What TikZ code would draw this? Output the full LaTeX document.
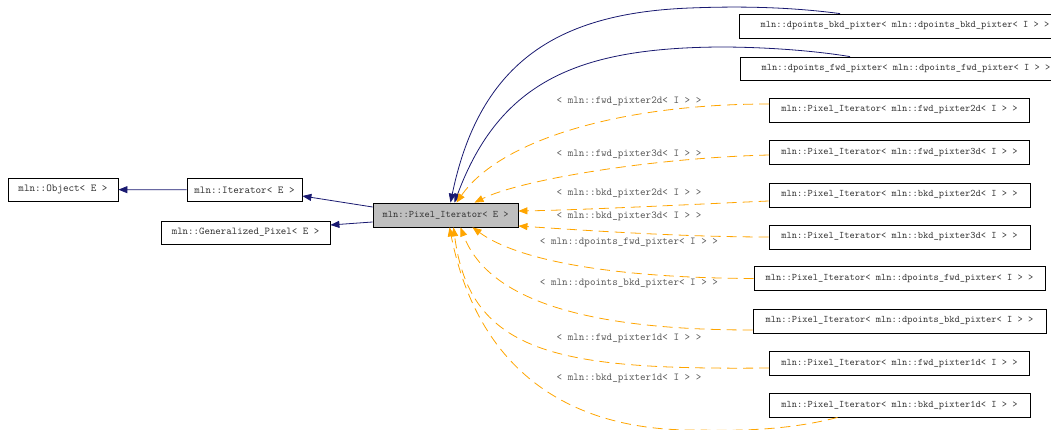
\documentclass[tikz,border=0pt]{standalone}
\usetikzlibrary{arrows.meta}
\definecolor{edgeblue}{HTML}{191970}
\definecolor{edgeorange}{HTML}{FFA500}
\tikzset{
    cls/.style={draw, line width=0.8pt, inner sep=0pt, minimum height=23pt,
        font=\ttfamily\fontsize{10}{12}\selectfont, text=black!80},
    lbl/.style={inner sep=0pt, font=\ttfamily\fontsize{10.6}{12}\selectfont, text=black!65},
    inherit/.style={draw=edgeblue, line width=0.8pt, -{Triangle[length=9pt,width=7pt]}},
    templ/.style={draw=edgeorange, line width=0.8pt, dash pattern=on 10pt off 6pt,
        -{Triangle[length=9pt,width=7pt]}}
}
\begin{document}
\begin{tikzpicture}[x=1pt,y=-1pt]
    \useasboundingbox (0,0) rectangle (1051,430);
    \clip (0,0) rectangle (1051,430);
% classes
    \node[cls, minimum width=110pt, font=\ttfamily\fontsize{10.6}{12}\selectfont] (object) at (63,189.5) {mln::Object< E >};
    \node[cls, minimum width=115pt, font=\ttfamily\fontsize{10.6}{12}\selectfont] (iter) at (244.5,190) {mln::Iterator< E >};
    \node[cls, minimum width=169pt, font=\ttfamily\fontsize{10.4}{12}\selectfont] (genpix) at (245.5,232.5) {mln::Generalized\_Pixel< E >};
    \node[cls, fill=black!25, minimum width=145pt, minimum height=24pt] (pixit) at (445.5,215) {mln::Pixel\_Iterator< E >};
    \node[cls, minimum width=332pt, minimum height=24pt] (dpbkd) at (905,26) {mln::dpoints\_bkd\_pixter< mln::dpoints\_bkd\_pixter< I > >};
    \node[cls, minimum width=332pt] (dpfwd) at (906,68.5) {mln::dpoints\_fwd\_pixter< mln::dpoints\_fwd\_pixter< I > >};
    \foreach \n/\y/\w/\t/\ly in {fwd2d/110/260/fwd\_pixter2d/101, fwd3d/152.5/260/fwd\_pixter3d/154,
        bkd2d/195/261/bkd\_pixter2d/193, bkd3d/237/261/bkd\_pixter3d/216,
        dfwd/278.5/291/dpoints\_fwd\_pixter/242, dbkd/321/293/dpoints\_bkd\_pixter/283,
        fwd1d/363/260/fwd\_pixter1d/338, bkd1d/405/261/bkd\_pixter1d/378}{
        \node[cls, minimum width=\w pt, minimum height=24pt] (\n) at (899.5,\y) {mln::Pixel\_Iterator< mln::\t< I > >};
        \node[lbl] (l\n) at (629,\ly) {< mln::\t< I > >};
    }
% inheritance
    \draw[inherit] (iter) -- (object);
    \draw[inherit] ([yshift=8pt]pixit.west) -- ([yshift=-6pt]iter.east);
    \draw[inherit] ([yshift=-7pt]pixit.west) -- ([yshift=7.5pt]genpix.east);
    \draw[inherit] ([xshift=-65pt]dpbkd.north) .. controls (790,7) and (740,6) .. (690,8)
        .. controls (560,13) and (480,60) .. ([xshift=5pt]pixit.north);
    \draw[inherit] ([xshift=-56pt]dpfwd.north) .. controls (810,50) and (760,47) .. (720,47)
        .. controls (580,48) and (500,80) .. ([xshift=9pt]pixit.north);
% template instances
    \draw[templ] ([yshift=6pt]fwd2d.west) .. controls (620,104) and (500,140) .. ([xshift=11pt]pixit.north);
    \draw[templ] ([yshift=-2.5pt]fwd3d.west) .. controls (650,158) and (520,180) .. ([xshift=29pt]pixit.north);
    \draw[templ] ([yshift=-6pt]bkd2d.west) .. controls (680,205) and (580,210) .. ([yshift=4pt]pixit.east);
    \draw[templ] (bkd3d.west) .. controls (680,237) and (580,230) .. ([yshift=-11pt]pixit.east);
    \draw[templ] (dfwd.west) .. controls (620,278) and (520,262) .. ([xshift=27pt]pixit.south);
    \draw[templ] ([yshift=-9pt]dbkd.west) .. controls (600,330) and (490,305) .. ([xshift=15pt]pixit.south);
    \draw[templ] ([yshift=-5pt]fwd1d.west) .. controls (560,370) and (470,355) .. ([xshift=8pt]pixit.south);
    \draw[templ] ([xshift=-62pt]bkd1d.south) .. controls (790,430) and (740,431) .. (700,430)
        .. controls (580,432) and (480,380) .. ([xshift=4pt]pixit.south);
\end{tikzpicture}
\end{document}
